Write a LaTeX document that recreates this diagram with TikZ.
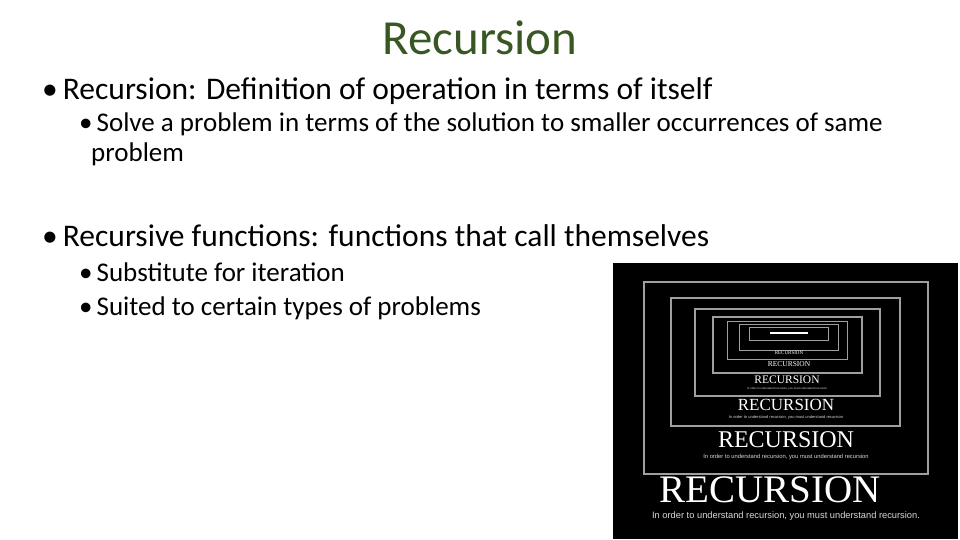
\documentclass[tikz,border=0pt]{standalone}
\usepackage{fontspec}
\setmainfont{Carlito}
\newfontfamily\serifr{Liberation Serif}
\newfontfamily\sansr{Liberation Sans}
\definecolor{ttl}{RGB}{56,87,35}
\begin{document}
\begin{tikzpicture}[x=1pt,y=-1pt,
  l1/.style={anchor=west,font=\fontsize{31.5}{36}\selectfont,inner sep=0},
  l2/.style={anchor=west,font=\fontsize{27}{30}\selectfont,inner sep=0,align=left},
  fr/.style={draw=gray!75,line width=#1},
  rec/.style={text=white,font=\serifr\fontsize{#1}{#1}\selectfont,inner sep=0},
  cap/.style={text=white!85!black,font=\sansr\fontsize{#1}{#1}\selectfont,inner sep=0}]
\useasboundingbox (0,0) rectangle (960,540);
\node[text=ttl,font=\fontsize{49}{52}\selectfont,inner sep=0] (title) at (480,38) {Recursion};
\node[l1] (b1) at (42,91) {•\hspace{5pt}Recursion: Definition of operation in terms of itself};
\node[l2,anchor=north west] (b1a) at (79,113) {•\hspace{4pt}Solve a problem in terms of the solution to smaller occurrences of same\\\hspace{12pt}problem};
\node[l1] (b2) at (42,236) {•\hspace{5pt}Recursive functions: functions that call themselves};
\node[l2] (b2a) at (79,272) {•\hspace{4pt}Substitute for iteration};
\node[l2] (b2b) at (79,308) {•\hspace{4pt}Suited to certain types of problems};
\fill[black] (613,263) rectangle (958,539);
\draw[fr=2.5] (644,282) rectangle (928,474);
\draw[fr=2] (671,298) rectangle (900,426);
\draw[fr=1.6] (695,309) rectangle (880,396);
\draw[fr=1.2] (713,317) rectangle (862,373);
\draw[fr=1] (727,321) rectangle (847,359);
\draw[fr=0.8] (739,324) rectangle (838,350);
\draw[fr=0.7] (749,327) rectangle (828,340);
\draw[white,line width=1.5] (770,333) -- (808,333);
\node[rec=39] (r0) at (770,490) {RECURSION};
\node[cap=9.3] (c0) at (786,516) {In order to understand recursion, you must understand recursion.};
\node[rec=24] (r1) at (786,440) {RECURSION};
\node[cap=5.8] (c1) at (786,457) {In order to understand recursion, you must understand recursion};
\node[rec=17] (r2) at (786,405) {RECURSION};
\node[cap=4] (c2) at (786,417) {In order to understand recursion, you must understand recursion};
\node[rec=11.5] (r3) at (787,380) {RECURSION};
\node[cap=2.8] (c3) at (787,388.5) {In order to understand recursion, you must understand recursion};
\node[rec=7.5] (r4) at (789,364) {RECURSION};
\node[rec=5] (r5) at (789,353) {RECURSION};
\end{tikzpicture}
\end{document}
